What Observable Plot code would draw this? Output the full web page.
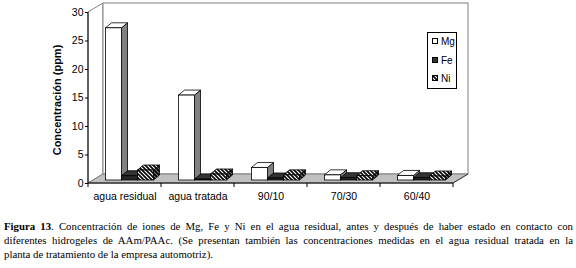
<!DOCTYPE html>
<html>
<head>
<meta charset="utf-8">
<script src="https://cdn.jsdelivr.net/npm/d3@7"></script>
<script src="https://cdn.jsdelivr.net/npm/@observablehq/plot@0.6"></script>
<style>
  html, body { margin: 0; padding: 0; background: white; }
  #wrap { position: relative; width: 576px; height: 268px; overflow: hidden; background: white; }
  #legend { position: absolute; left: 427px; top: 32px; width: 30px; height: 57px; border: 1px solid #000; background: #fff; box-sizing: border-box;
            font-family: "Liberation Sans", Arial, sans-serif; font-size: 10px; color: #000; }
  #legend .item { position: absolute; left: 4px; height: 12px; line-height: 12px; white-space: nowrap; }
  #legend svg { vertical-align: middle; margin-right: 3px; position: relative; top: -1px; }
  #caption { position: absolute; left: 4px; top: 219px; width: 569px;
             font-family: "Liberation Serif", "DejaVu Serif", "Times New Roman", Times, serif;
             font-size: 10.8px; line-height: 14px; color: #000; }
  #caption .l { white-space: nowrap; text-align: justify; text-align-last: justify; }
  #caption .l.last { text-align-last: left; }
</style>
</head>
<body>
<div id="wrap">
  <div id="chart"></div>
  <div id="legend"></div>
  <div id="caption">
    <div class="l"><b>Figura 13</b>. Concentración de iones de Mg, Fe y Ni en el agua residual, antes y después de haber estado en contacto con</div>
    <div class="l">diferentes hidrogeles de AAm/PAAc. (Se presentan también las concentraciones medidas en el agua residual tratada en la</div>
    <div class="l last">planta de tratamiento de la empresa automotriz).</div>
  </div>
</div>
<script>
const categories = ["agua residual", "agua tratada", "90/10", "70/30", "60/40"];
const seriesNames = ["Mg", "Fe", "Ni"];
const mg = [26.7, 14.9, 2.2, 0.9, 0.8];
const fe = [0.75, 0.15, 0.35, 0.4, 0.4];
const ni = [1.75, 1.05, 0.9, 0.75, 0.7];
const yTicks = [0, 5, 10, 15, 20, 25, 30];
const yLabel = "Concentración (ppm)";

const styles = {
  Mg: {front: "#ffffff", top: "#ffffff", side: "#808080"},
  Fe: {front: "#262626", top: "#333333", side: "#000000"},
  Ni: {front: "url(#hatch)", top: "url(#hatch)", side: "url(#hatchDark)"}
};

const WALL = [15, 9];   // depth of the back wall
const SHIFT = [5, 3];   // bars sit slightly back from the front
const DEPTH = [6, 5];   // bar depth
const BAR_W = 16;

function boxMark(values, slot, name) {
  const rows = categories.map((c, i) => ({cat: c, v: values[i], s: name}));
  const st = styles[name];
  return Plot.barY(rows, {
    x: "cat", y: "v",
    render: (index, scales, vals) => {
      const bw = scales.x.bandwidth();
      const g = d3.create("svg:g");
      for (const i of index) {
        const xa = vals.x[i] + (bw - 3 * BAR_W) / 2 + slot * BAR_W + SHIFT[0];
        const xb = xa + BAR_W;
        const yb = Math.max(vals.y1[i], vals.y2[i]) - SHIFT[1];
        const yt = Math.min(vals.y1[i], vals.y2[i]) - SHIFT[1];
        const [dx, dy] = DEPTH;
        g.append("path").attr("d", `M${xb},${yt}L${xb + dx},${yt - dy}L${xb + dx},${yb - dy}L${xb},${yb}Z`)
          .attr("fill", st.side).attr("stroke", "#000").attr("stroke-width", 0.8);
        g.append("path").attr("d", `M${xa},${yt}L${xb},${yt}L${xb + dx},${yt - dy}L${xa + dx},${yt - dy}Z`)
          .attr("fill", st.top).attr("stroke", "#000").attr("stroke-width", 0.8);
        g.append("rect").attr("x", xa).attr("y", yt).attr("width", BAR_W).attr("height", yb - yt)
          .attr("fill", st.front).attr("stroke", "#000").attr("stroke-width", 0.8);
      }
      return g.node();
    }
  });
}

const walls = Plot.frame({
  stroke: "none",
  render: (index, scales) => {
    const xs = scales.x, dom = xs.domain(), bw = xs.bandwidth();
    const x0 = xs(dom[0]), x1 = xs(dom[dom.length - 1]) + bw;
    const y0 = scales.y(0), yT = scales.y(30);
    const [wx, wy] = WALL;
    const g = d3.create("svg:g");
    const defs = g.append("defs");
    const p = defs.append("pattern").attr("id", "hatch").attr("patternUnits", "userSpaceOnUse").attr("width", 4).attr("height", 4);
    p.append("rect").attr("width", 4).attr("height", 4).attr("fill", "#fff");
    p.append("path").attr("d", "M-1,-1L5,5M-1,3L1,5M3,-1L5,1").attr("stroke", "#000").attr("stroke-width", 1.6);
    const p2 = defs.append("pattern").attr("id", "hatchDark").attr("patternUnits", "userSpaceOnUse").attr("width", 4).attr("height", 4);
    p2.append("rect").attr("width", 4).attr("height", 4).attr("fill", "#777");
    p2.append("path").attr("d", "M-1,-1L5,5M-1,3L1,5M3,-1L5,1").attr("stroke", "#000").attr("stroke-width", 1.8);
    // left wall
    g.append("path").attr("d", `M${x0},${yT}L${x0 + wx},${yT - wy}L${x0 + wx},${y0 - wy}L${x0},${y0}Z`)
      .attr("fill", "#fff").attr("stroke", "#808080");
    // back wall
    g.append("rect").attr("x", x0 + wx).attr("y", yT - wy).attr("width", x1 - x0).attr("height", y0 - yT)
      .attr("fill", "#fff").attr("stroke", "#808080");
    // floor
    g.append("path").attr("d", `M${x0},${y0}L${x1},${y0}L${x1 + wx},${y0 - wy}L${x0 + wx},${y0 - wy}Z`)
      .attr("fill", "#c0c0c0").attr("stroke", "#808080");
    g.append("path").attr("d", `M${x1},${y0}L${x1 + wx},${y0 - wy}`).attr("stroke", "#404040");
    // axes lines
    g.append("path").attr("d", `M${x0},${yT}V${y0}H${x1}`).attr("fill", "none").attr("stroke", "#000");
    const bounds = dom.map(d => xs(d)).concat([x1]);
    for (const b of bounds) g.append("path").attr("d", `M${b},${y0}V${y0 + 4}`).attr("stroke", "#000");
    return g.node();
  }
});

const chart = Plot.plot({
  width: 576, height: 205,
  marginLeft: 88, marginRight: 123, marginTop: 12, marginBottom: 22,
  style: {fontFamily: "'Liberation Sans', Arial, sans-serif", fontSize: "10px", background: "white", color: "#000", overflow: "visible"},
  x: {domain: categories, padding: 0, axis: null},
  y: {domain: [0, 30], axis: null},
  marks: [
    walls,
    boxMark(mg, 0, "Mg"),
    boxMark(fe, 1, "Fe"),
    boxMark(ni, 2, "Ni"),
    Plot.axisY({ticks: yTicks, tickSize: 3, tickPadding: 2, fontSize: 10.5, label: null}),
    Plot.axisX({tickSize: 0, tickPadding: 9, fontSize: 10.5, label: null}),
    Plot.text([yLabel], {frameAnchor: "left", textAnchor: "middle", rotate: -90, dx: -31, dy: 2, fontWeight: "bold", fontSize: 11})
  ]
});
document.getElementById("chart").appendChild(chart);

// legend
const legend = document.getElementById("legend");
const swatch = {
  Mg: `<rect x="0.5" y="0.5" width="5" height="5" fill="#fff" stroke="#000"/>`,
  Fe: `<rect x="0.5" y="0.5" width="5" height="5" fill="#333" stroke="#000"/>`,
  Ni: `<rect x="0.5" y="0.5" width="5" height="5" fill="url(#hatch)" stroke="#000"/>`
};
seriesNames.forEach((s, k) => {
  const div = document.createElement("div");
  div.className = "item";
  div.style.top = (3 + k * 18.5) + "px";
  div.innerHTML = `<svg width="6" height="6">${swatch[s]}</svg>${s}`;
  legend.appendChild(div);
});
</script>
</body>
</html>
